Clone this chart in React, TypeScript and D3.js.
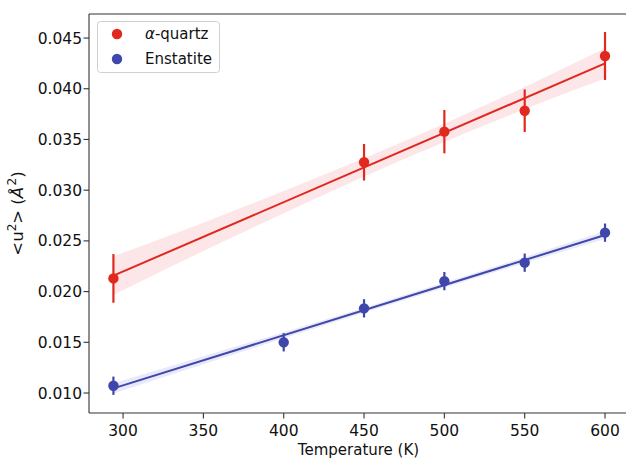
import React from "react";
import * as d3 from "d3";

const W = 626;
const H = 460;

const temps = [294, 450, 500, 550, 600];
const quartzU = [0.0213, 0.03275, 0.03577, 0.03783, 0.04323];
const quartzErr = [0.0024, 0.0018, 0.00214, 0.0021, 0.00237];

const enstTemps = [294, 400, 450, 500, 550, 600];
const enstU = [0.01072, 0.0150, 0.01835, 0.02103, 0.02285, 0.02581];
const enstErr = [0.0009, 0.0009, 0.0009, 0.0009, 0.0009, 0.0009];

const fitX = [294, 600];
const quartzFit = [0.02157, 0.0425];
const enstFit = [0.01046, 0.02558];

const bandX = [294, 350, 400, 450, 500, 550, 600];
const quartzBand = [0.0019, 0.0014, 0.0011, 0.0009, 0.0009, 0.0011, 0.0015];
const enstBand = [0.0005, 0.0004, 0.0003, 0.00025, 0.00025, 0.0003, 0.0004];

const xTicks = [300, 350, 400, 450, 500, 550, 600];
const yTicks = [0.01, 0.015, 0.02, 0.025, 0.03, 0.035, 0.04, 0.045];

const RED = "#e0281e";
const BLUE = "#4047ab";
const RED_BAND = "#fde3e6";
const BLUE_BAND = "#e7e7f8";
const FONT = "DejaVu Sans, sans-serif";

const M = { left: 89, top: 14, right: 628, bottom: 413 };

export default function App() {
  const x = d3.scaleLinear().domain([278.8, 614.3]).range([M.left, M.right]);
  const y = d3.scaleLinear().domain([0.00803, 0.04737]).range([M.bottom, M.top]);

  const fitVal = (fit: number[], t: number) =>
    fit[0] + ((t - fitX[0]) / (fitX[1] - fitX[0])) * (fit[1] - fit[0]);

  const bandArea = (fit: number[], band: number[]) =>
    d3
      .area<number>()
      .x((_, i) => x(bandX[i]))
      .y0((t, i) => y(fitVal(fit, t) - band[i]))
      .y1((t, i) => y(fitVal(fit, t) + band[i]))
      .curve(d3.curveMonotoneX)(bandX) as string;

  const line = (fit: number[]) =>
    d3
      .line<number>()
      .x((t) => x(t))
      .y((_, i) => y(fit[i]))(fitX) as string;

  const series = [
    { t: temps, u: quartzU, e: quartzErr, fit: quartzFit, band: quartzBand, c: RED, bc: RED_BAND },
    { t: enstTemps, u: enstU, e: enstErr, fit: enstFit, band: enstBand, c: BLUE, bc: BLUE_BAND },
  ];

  return (
    <svg
      width={W}
      height={H}
      style={{ position: "fixed", left: 0, top: 0, background: "#fff" }}
      fontFamily={FONT}
    >
      <rect x={0} y={0} width={W} height={H} fill="#fff" />
      {series.map((s, k) => (
        <path key={"b" + k} d={bandArea(s.fit, s.band)} fill={s.bc} opacity={0.9} />
      ))}
      {series.map((s, k) => (
        <path key={"l" + k} d={line(s.fit)} stroke={s.c} strokeWidth={2} fill="none" />
      ))}
      {series.map((s, k) => (
        <g key={"p" + k}>
          {s.t.map((t, i) => (
            <g key={i}>
              <line
                x1={x(t)}
                x2={x(t)}
                y1={y(s.u[i] - s.e[i])}
                y2={y(s.u[i] + s.e[i])}
                stroke={s.c}
                strokeWidth={2.2}
              />
              <circle cx={x(t)} cy={y(s.u[i])} r={5.2} fill={s.c} />
            </g>
          ))}
        </g>
      ))}

      {/* spines */}
      <line x1={M.left} x2={M.left} y1={M.top} y2={M.bottom} stroke="#333" strokeWidth={1.1} />
      <line x1={M.left} x2={M.right} y1={M.bottom} y2={M.bottom} stroke="#333" strokeWidth={1.1} />
      <line x1={M.left} x2={M.right} y1={M.top} y2={M.top} stroke="#333" strokeWidth={1.1} />

      {/* x ticks */}
      {xTicks.map((t) => (
        <g key={t}>
          <line x1={x(t)} x2={x(t)} y1={M.bottom} y2={M.bottom + 5.5} stroke="#333" strokeWidth={1.1} />
          <text x={x(t)} y={436} textAnchor="middle" fontSize={15.5} fill="#111">
            {t}
          </text>
        </g>
      ))}
      {/* y ticks */}
      {yTicks.map((t) => (
        <g key={t}>
          <line x1={M.left - 5.5} x2={M.left} y1={y(t)} y2={y(t)} stroke="#333" strokeWidth={1.1} />
          <text x={82} y={y(t)} dy="0.36em" textAnchor="end" fontSize={15.5} fill="#111">
            {t.toFixed(3)}
          </text>
        </g>
      ))}

      <text x={(M.left + M.right) / 2} y={455} textAnchor="middle" fontSize={15} fill="#111">
        Temperature (K)
      </text>
      <text
        transform={`translate(23,${(M.top + M.bottom) / 2}) rotate(-90)`}
        textAnchor="middle"
        fontSize={16.5}
        fill="#111"
      >
        {"<u"}
        <tspan dy={-7} fontSize={12}>2</tspan>
        <tspan dy={7}>{"> ("}</tspan>
        <tspan fontStyle="italic">Å</tspan>
        <tspan dy={-7} fontSize={12} dx={1.5}>2</tspan>
        <tspan dy={7}>)</tspan>
      </text>

      {/* legend */}
      <rect x={97.5} y={21.5} width={122} height={51} rx={3} fill="#fff" stroke="#d0d0d0" strokeWidth={1} />
      <circle cx={117} cy={34} r={5.2} fill={RED} />
      <circle cx={117} cy={59} r={5.2} fill={BLUE} />
      <text x={145} y={39} fontSize={15} fill="#111">
        <tspan fontStyle="italic">α</tspan>-quartz
      </text>
      <text x={145} y={64} fontSize={15} fill="#111">
        Enstatite
      </text>
    </svg>
  );
}
